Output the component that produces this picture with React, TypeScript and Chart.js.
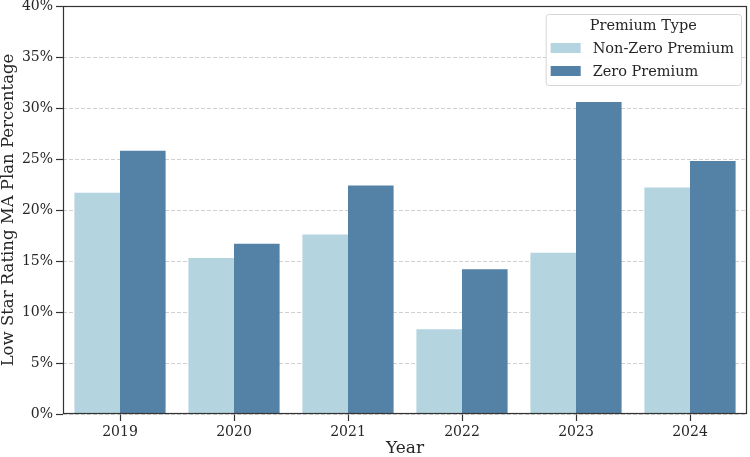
import React, { useEffect, useRef } from 'react';
import { Chart, registerables } from 'chart.js';

Chart.register(...registerables);

const years = ['2019', '2020', '2021', '2022', '2023', '2024'];
const nonZeroPremium = [21.7, 15.3, 17.6, 8.3, 15.8, 22.2];
const zeroPremium = [25.8, 16.7, 22.4, 14.2, 30.6, 24.8];
const seriesLabels = ['Non-Zero Premium', 'Zero Premium'];
const seriesColors = ['#b4d4df', '#5481a6'];
const legendTitle = 'Premium Type';
const xTitle = 'Year';
const yTitle = 'Low Star Rating MA Plan Percentage';
const yMin = 0;
const yMax = 40;
const yStep = 5;

const FONT = "'DejaVu Serif', serif";

const framePlugin = {
  id: 'frameAndLegend',
  afterDraw(chart: any) {
    const { ctx, chartArea: a } = chart;
    ctx.save();
    // frame
    ctx.strokeStyle = '#333333';
    ctx.lineWidth = 1.2;
    const l = Math.round(a.left) + 0.5;
    const t = Math.round(a.top) + 0.5;
    const r = Math.round(a.right) - 0.5;
    const b = Math.round(a.bottom) - 0.5;
    ctx.strokeRect(l, t, r - l, b - t);

    // legend
    const ds = chart.data.datasets;
    ctx.font = `14.5px ${FONT}`;
    let maxW = 0;
    ds.forEach((d: any) => {
      maxW = Math.max(maxW, ctx.measureText(d.label).width);
    });
    const padL = 5;
    const patchW = 30;
    const patchH = 10;
    const gap = 12;
    const padR = 7;
    const boxW = padL + patchW + gap + maxW + padR;
    const boxH = 71;
    const boxR = a.right - 6;
    const boxL = boxR - boxW;
    const boxT = a.top + 8;
    ctx.beginPath();
    if ((ctx as any).roundRect) {
      (ctx as any).roundRect(boxL + 0.5, boxT + 0.5, boxW, boxH, 3);
    } else {
      ctx.rect(boxL + 0.5, boxT + 0.5, boxW, boxH);
    }
    ctx.fillStyle = 'rgba(255,255,255,0.9)';
    ctx.fill();
    ctx.strokeStyle = '#d6d6d6';
    ctx.lineWidth = 1;
    ctx.stroke();

    ctx.fillStyle = '#262626';
    ctx.textBaseline = 'middle';
    ctx.textAlign = 'center';
    ctx.fillText(legendTitle, boxL + boxW / 2, boxT + 12.5);
    ctx.textAlign = 'left';
    ds.forEach((d: any, i: number) => {
      const cy = boxT + 34 + i * 23;
      ctx.fillStyle = d.backgroundColor;
      ctx.fillRect(boxL + padL, cy - patchH / 2, patchW, patchH);
      ctx.fillStyle = '#262626';
      ctx.fillText(d.label, boxL + padL + patchW + gap, cy + 1);
    });
    ctx.restore();
  },
};

export default function App() {
  const ref = useRef<HTMLCanvasElement>(null);

  useEffect(() => {
    if (!ref.current) return;
    const chart = new Chart(ref.current, {
      type: 'bar',
      data: {
        labels: years,
        datasets: [
          {
            label: seriesLabels[0],
            data: nonZeroPremium,
            backgroundColor: seriesColors[0],
            borderWidth: 0,
            categoryPercentage: 0.8,
            barPercentage: 1.0,
          },
          {
            label: seriesLabels[1],
            data: zeroPremium,
            backgroundColor: seriesColors[1],
            borderWidth: 0,
            categoryPercentage: 0.8,
            barPercentage: 1.0,
          },
        ],
      },
      options: {
        responsive: false,
        animation: false,
        devicePixelRatio: 1,
        layout: { padding: { top: 6, right: 3, left: 0, bottom: 0 } },
        plugins: {
          legend: { display: false },
          tooltip: { enabled: false },
        },
        scales: {
          x: {
            offset: true,
            grid: {
              display: true,
              offset: false,
              drawOnChartArea: false,
              drawTicks: true,
              tickLength: 7,
              tickColor: '#333333',
              tickWidth: 1.2,
            },
            border: { display: false },
            ticks: {
              color: '#262626',
              padding: 3,
              font: { family: FONT, size: 14 },
            },
            title: {
              display: true,
              text: xTitle,
              color: '#262626',
              font: { family: FONT, size: 17, lineHeight: 1 },
              padding: { top: 0, bottom: 0 },
            },
            afterFit(scale: any) {
              scale.height = 43;
            },
          },
          y: {
            min: yMin,
            max: yMax,
            grid: {
              color: 'rgba(185,185,185,0.85)',
              lineWidth: 0.8,
              drawTicks: true,
              tickLength: 7,
              tickColor: '#333333',
              tickWidth: 1.2,
              tickBorderDash: [],
            } as any,
            border: { display: false, dash: [4, 2] },
            ticks: {
              stepSize: yStep,
              color: '#262626',
              padding: 3,
              font: { family: FONT, size: 14 },
              callback: (v: any) => `${v}%`,
            },
            title: {
              display: true,
              text: yTitle,
              color: '#262626',
              font: { family: FONT, size: 16.5, lineHeight: 1 },
              padding: { top: 0, bottom: 0 },
            },
            afterFit(scale: any) {
              scale.width = 63;
              scale.paddingTop = 0;
              scale.paddingBottom = 0;
            },
          },
        },
      },
      plugins: [framePlugin],
    });
    return () => chart.destroy();
  }, []);

  return (
    <div style={{ position: 'absolute', left: 0, top: 0, width: 750, height: 457, background: '#fff' }}>
      <canvas ref={ref} width={750} height={457} />
    </div>
  );
}
